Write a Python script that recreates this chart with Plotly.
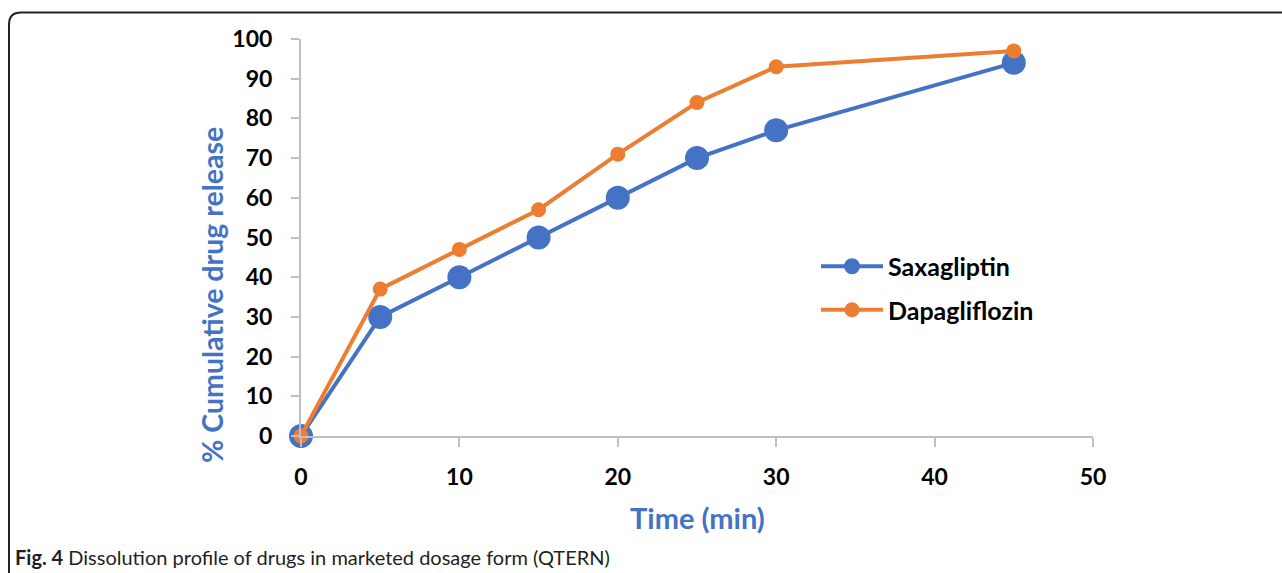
import plotly.graph_objects as go

time_min = [0, 5, 10, 15, 20, 25, 30, 45]
saxagliptin = [0, 30, 40, 50, 60, 70, 77, 94]
dapagliflozin = [0, 37, 47, 57, 71, 84, 93, 97]
x_ticks = [0, 10, 20, 30, 40, 50]
y_ticks = [0, 10, 20, 30, 40, 50, 60, 70, 80, 90, 100]

W, H = 1282, 573
L, R, T, B = 301, 1093, 39, 436  # plot area pixels

def px(x):
    return (x - L) / (R - L)

def py(y):
    return (B - y) / (B - T)

BLUE = "#4472C4"
ORANGE = "#ED7D31"
FONT = "Lato"

fig = go.Figure()
fig.add_trace(go.Scatter(
    x=time_min, y=saxagliptin, name="Saxagliptin", mode="lines+markers",
    line=dict(color=BLUE, width=4), marker=dict(size=24, color=BLUE),
    cliponaxis=False, legendgroup="a"))
fig.add_trace(go.Scatter(
    x=time_min, y=dapagliflozin, name="Dapagliflozin", mode="lines+markers",
    line=dict(color=ORANGE, width=4), marker=dict(size=15, color=ORANGE),
    cliponaxis=False, legendgroup="b"))

# rounded border (top-left corner only visible)
x0, y0, r = 9, 12.5, 12
path = (f"M {px(x0)},{py(600)} L {px(x0)},{py(y0 + r)} "
        f"Q {px(x0)},{py(y0)} {px(x0 + r)},{py(y0)} L {px(1300)},{py(y0)}")

fig.update_layout(
    width=W, height=H, autosize=False,
    margin=dict(l=L, r=W - R, t=T, b=H - B, pad=0),
    paper_bgcolor="white", plot_bgcolor="white",
    font=dict(family=FONT, color="black"),
    showlegend=True,
    legend=dict(x=px(816), y=py(288), xanchor="left", yanchor="middle",
                font=dict(family=FONT, size=25, color="black", weight="bold"),
                bgcolor="rgba(0,0,0,0)", tracegroupgap=8, itemwidth=62,
                itemsizing="trace"),
    xaxis=dict(range=[0, 50], tickvals=x_ticks, showgrid=False, zeroline=False,
               showline=True, linecolor="#BFBFBF", linewidth=2,
               ticks="outside", ticklen=9, tickwidth=2, tickcolor="#BFBFBF",
               ticklabelstandoff=10,
               tickfont=dict(family=FONT, size=23, color="black", weight="bold")),
    yaxis=dict(range=[0, 100], tickvals=y_ticks, showgrid=False, zeroline=False,
               showline=True, linecolor="#BFBFBF", linewidth=2,
               ticks="outside", ticklen=8, tickwidth=2, tickcolor="#BFBFBF",
               ticklabelstandoff=14,
               tickfont=dict(family=FONT, size=23, color="black", weight="bold")),
    shapes=[dict(type="path", xref="paper", yref="paper", path=path,
                 line=dict(color="#222222", width=2))],
    annotations=[
        dict(text="% Cumulative drug release", xref="paper", yref="paper",
             x=px(212), y=py(295), textangle=-90, showarrow=False,
             xanchor="center", yanchor="middle",
             font=dict(family=FONT, size=28.5, color=BLUE, weight="bold")),
        dict(text="Time (min)", xref="paper", yref="paper",
             x=px(697), y=py(517), showarrow=False,
             xanchor="center", yanchor="middle",
             font=dict(family=FONT, size=29, color=BLUE, weight="bold")),
        dict(text="<b>Fig. 4</b> Dissolution profile of drugs in marketed dosage form (QTERN)",
             xref="paper", yref="paper", x=px(13), y=py(557), showarrow=False,
             xanchor="left", yanchor="middle",
             font=dict(family=FONT, size=20, color="#231F20")),
    ],
)

fig.write_html("out.html", config={"displayModeBar": False},
               post_script="document.body.style.margin='0';")
